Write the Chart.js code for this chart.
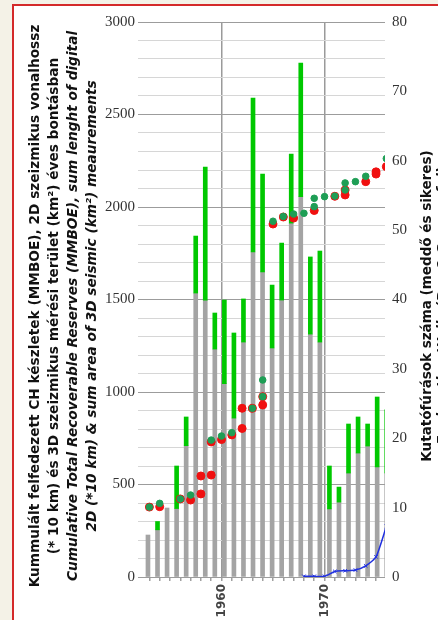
<!DOCTYPE html>
<html>
<head>
<meta charset="utf-8">
<script src="https://cdn.jsdelivr.net/npm/chart.js@4.4.0/dist/chart.umd.min.js"></script>
<style>
html,body{margin:0;padding:0;width:438px;height:620px;overflow:hidden;background:#f4f2e7;}
#frame{position:absolute;left:12px;top:4px;width:500px;height:700px;border:2px solid #d42a2a;background:#fff;}
#wrap{position:absolute;left:0;top:0;width:438px;height:620px;}
</style>
</head>
<body>
<div id="frame"></div>
<div id="wrap"><canvas id="myChart" width="438" height="620"></canvas></div>
<script>
// bars: 2D seismic (gray) with 3D seismic stacked on top (green)
const grayBars  = [227,255,373,370,710,1535,1497,1232,1045,859,1270,1757,1649,1238,1497,1913,2056,1313,1270,368,405,562,670,708,595,562];
const greenTops = [null,300,null,600,865,1843,2216,1427,1497,1319,1503,2589,2178,1578,1805,2286,2778,1730,1762,600,486,827,865,827,973,903];

// cumulative reserves, red and green markers
const redYears   = [1953,1954,1956,1957,1958,1958,1959,1959,1960,1961,1962,1962,1963,1964,1964,1965,1966,1967,1969,1971,1972,1972,1974,1975,1975,1976];
const redValues  = [378,380,422,416,449,546,551,730,743,768,803,912,912,930,975,1908,1946,1940,1981,2058,2065,2092,2137,2178,2190,2218];
const greenYears  = [1953,1954,1956,1957,1959,1960,1961,1963,1964,1964,1965,1966,1967,1968,1969,1969,1970,1971,1972,1972,1973,1974,1976];
const greenValues = [378,398,422,443,740,762,780,912,975,1065,1923,1949,1962,1966,2002,2047,2056,2059,2092,2130,2137,2166,2262];

// exploration wells (right axis)
const wellYears = [1968,1969,1970,1971,1972,1973,1974,1975,1976];
const wells     = [0.1,0.1,0.1,0.8,0.9,1.0,1.6,2.9,7.3];

const yearLabels = [1960,1970];

const leftTitles = [
  "Kummulált felfedezett CH készletek (MMBOE), 2D szeizmikus vonalhossz",
  "(* 10 km) és 3D szeizmikus mérési terület (km²) éves bontásban",
  "Cumulative Total Recoverable Reserves (MMBOE), sum lenght of digital",
  "2D (*10 km) & sum area of 3D seismic (km²) meaurements"
];
const rightTitles = [
  "Kutatófúrások száma (meddő és sikeres)",
  "Exploration Wells (Dry & Successful)"
];

function pts(xs, ys){
  let out = [];
  for (let i=0; i<xs.length; i++){
    out.push({x: xs[i], y: ys[i]});
  }
  return out;
}

let grayData = grayBars.map((v,i) => ({x:i, y:v}));
let greenData = [];
greenTops.forEach((v,i) => {
  if(v!=null){
    greenData.push({x:i, y:[grayBars[i], v]});
  }
});

const axisTitles = {
  id: 'axisTitles',
  afterDraw(chart){
    const ctx = chart.ctx;
    function vtext(str, x, y, font){
      ctx.save();
      ctx.translate(x, y);
      ctx.rotate(-Math.PI/2);
      ctx.font = font;
      ctx.fillStyle = '#111';
      ctx.textAlign = 'center';
      ctx.textBaseline = 'middle';
      ctx.fillText(str, 0, 0);
      ctx.restore();
    }
    vtext(leftTitles[0], 35, 306, 'bold 13.7px "DejaVu Sans"');
    vtext(leftTitles[1], 54, 306, 'bold 13.7px "DejaVu Sans"');
    vtext(leftTitles[2], 73, 306, 'italic bold 13.7px "DejaVu Sans"');
    vtext(leftTitles[3], 92, 306, 'italic bold 13.7px "DejaVu Sans"');
    vtext(rightTitles[0], 427, 306, 'bold 13.5px "DejaVu Sans"');
    vtext(rightTitles[1], 443, 306, 'italic bold 13.5px "DejaVu Sans"');
  }
};

const config = {
  type: 'bar',
  data: {
    datasets: [
      {
        type: 'line',
        label: 'wells',
        data: pts(wellYears, wells),
        xAxisID: 'x',
        yAxisID: 'y1',
        borderColor: '#2030e0',
        borderWidth: 1.5,
        pointStyle: 'crossRot',
        pointRadius: 2.5,
        pointBorderColor: '#2030e0',
        pointBorderWidth: 1,
        tension: 0.2,
        fill: false,
        order: 0
      },
      {
        type: 'scatter',
        label: 'green',
        data: pts(greenYears, greenValues),
        xAxisID: 'x',
        yAxisID: 'y',
        backgroundColor: '#1e9e55',
        borderColor: '#1e9e55',
        pointRadius: 3.3,
        order: 1
      },
      {
        type: 'scatter',
        label: 'red',
        data: pts(redYears, redValues),
        xAxisID: 'x',
        yAxisID: 'y',
        backgroundColor: '#f01010',
        borderColor: '#f01010',
        pointRadius: 4,
        order: 2
      },
      {
        type: 'bar',
        label: '3D',
        data: greenData,
        xAxisID: 'xb',
        yAxisID: 'y',
        backgroundColor: '#00c800',
        barThickness: 4,
        grouped: false,
        order: 3
      },
      {
        type: 'bar',
        label: '2D',
        data: grayData,
        xAxisID: 'xb',
        yAxisID: 'y',
        backgroundColor: '#a4a4a4',
        barThickness: 4,
        grouped: false,
        order: 4
      }
    ]
  },
  options: {
    responsive: false,
    animation: false,
    devicePixelRatio: 1,
    layout: {padding: {left: 0, right: 0, top: 22, bottom: 0}},
    plugins: {legend: {display: false}, tooltip: {enabled: false}},
    scales: {
      xb: {
        type: 'linear',
        display: false,
        offset: false,
        min: -0.52,
        max: 24.82
      },
      x: {
        type: 'linear',
        position: 'bottom',
        offset: false,
        min: 1952.38,
        max: 1975.87,
        afterFit: s => { s.height = 43; },
        border: {display: false},
        grid: {
          offset: false,
          color: c => (c.tick && c.tick.value % 10 === 0) ? '#9a9a9a' : 'rgba(0,0,0,0)',
          lineWidth: 1.5,
          tickColor: '#a0a0a0',
          tickLength: 4
        },
        ticks: {
          stepSize: 1,
          includeBounds: false,
          autoSkip: false,
          minRotation: 90,
          maxRotation: 90,
          padding: 3,
          color: '#444',
          font: {family: '"DejaVu Sans"', size: 12, weight: 'bold'},
          callback: v => yearLabels.includes(v) ? String(v) : ''
        }
      },
      y: {
        type: 'linear',
        position: 'left',
        min: 0,
        max: 3000,
        afterFit: s => { s.width = 143; },
        border: {display: false},
        grid: {
          color: c => (c.tick && c.tick.value % 500 === 0) ? '#9c9c9c' : '#d6d6d6',
          lineWidth: 1,
          tickLength: 5
        },
        ticks: {
          stepSize: 100,
          autoSkip: false,
          padding: 3,
          color: '#333',
          font: {family: '"Liberation Serif"', size: 15},
          callback: v => v % 500 === 0 ? String(v) : ''
        }
      },
      y1: {
        type: 'linear',
        position: 'right',
        min: 0,
        max: 80,
        afterFit: s => { s.width = 53; },
        border: {display: false},
        grid: {drawOnChartArea: false, drawTicks: false},
        ticks: {
          stepSize: 10,
          padding: 7,
          color: '#333',
          font: {family: '"Liberation Serif"', size: 15}
        }
      }
    }
  },
  plugins: [axisTitles]
};

const ctx = document.getElementById('myChart').getContext('2d');
let myChart = new Chart(ctx, config);
</script>
</body>
</html>
